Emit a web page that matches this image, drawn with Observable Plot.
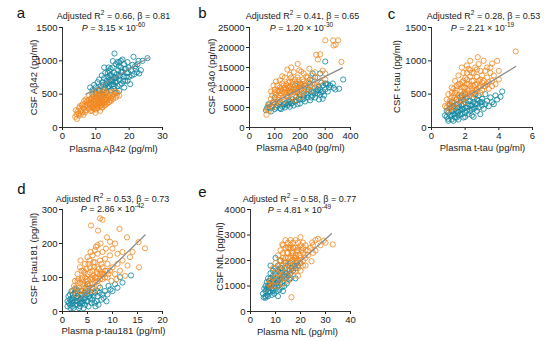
<!DOCTYPE html>
<html><head><meta charset="utf-8">
<script src="https://cdn.jsdelivr.net/npm/d3@7"></script>
<script src="https://cdn.jsdelivr.net/npm/@observablehq/plot@0.6"></script>
<style>
body{margin:0;background:#fff}
#root{position:relative;width:554px;height:341px;overflow:hidden;font-family:"Liberation Sans",Arial,sans-serif}
#root > div{position:absolute}
</style>
</head><body><div id="root"></div>
<script>
// ---------- data ----------
const orangeColor = "#F0871F";
const tealColor = "#1488A1";

// panel a : Plasma Aβ42 vs CSF Aβ42
const aOrange = [[3.8,160],[4.2,200],[4.0,260],[4.5,240],[5.0,290],[4.8,210],[5.5,250],[5.2,320],[6.0,230],[6.2,300],[6.5,280],[6.0,350],[6.8,330],[7.0,260],[7.2,380],[7.5,300],[7.8,350],[8.0,280],[8.0,420],[8.3,330],[8.5,380],[8.7,300],[8.8,450],[9.0,350],[9.0,400],[9.2,320],[9.4,470],[9.5,380],[9.6,280],[9.8,430],[10.0,350],[10.0,500],[10.2,400],[10.3,320],[10.5,450],[10.6,370],[10.8,300],[10.9,420],[11.0,480],[11.0,350],[11.2,400],[11.4,330],[11.5,450],[11.6,520],[11.8,380],[12.0,420],[12.0,300],[12.2,470],[12.4,360],[12.5,400],[12.7,500],[12.8,430],[13.0,380],[13.0,460],[13.3,520],[13.5,410],[13.8,470],[14.0,380],[14.2,500],[14.5,440],[14.8,530],[15.0,470],[15.5,500],[16.0,450],[16.5,520],[17.0,480],[9.5,520],[10.5,550],[8.0,480],[7.0,420],[11.3,250],[12.5,560],[6.5,400],[5.8,330],[10.7,430],[9.8,360],[11.8,460],[12.9,340],[14.3,410],[8.9,250],[10.1,270],[4.3,130],[5.0,180],[7.5,400],[8.2,360],[8.6,430],[9.1,290],[9.3,420],[9.7,330],[10.2,460],[10.4,290],[10.8,510],[11.1,380],[11.3,440],[11.7,300],[12.1,380],[12.3,530],[12.6,330],[13.1,420],[13.4,360],[13.6,480],[14.1,450],[14.6,400],[15.2,430],[15.8,540],[16.3,480],[7.3,330],[6.8,230],[5.5,200],[6.3,190],[8.4,250],[9.9,220],[11.9,340]];
const aTeal = [[8.3,600],[9.0,560],[9.5,640],[10.0,600],[10.5,680],[10.8,560],[11.0,720],[11.5,620],[11.8,780],[12.0,680],[12.3,560],[12.5,740],[12.8,820],[13.0,640],[13.2,700],[13.5,760],[13.7,600],[14.0,850],[14.0,680],[14.3,720],[14.5,790],[14.7,640],[15.0,900],[15.0,700],[15.2,760],[15.4,580],[15.5,820],[15.8,680],[16.0,740],[16.0,950],[16.3,800],[16.5,620],[16.7,860],[17.0,720],[17.0,980],[17.3,780],[17.5,900],[17.8,660],[18.0,840],[18.3,760],[18.5,950],[18.8,700],[19.0,880],[19.3,820],[19.5,980],[19.8,900],[20.0,760],[20.3,650],[20.5,860],[21.0,940],[21.3,1060],[21.5,800],[22.0,880],[22.5,950],[22.8,1000],[23.0,810],[23.5,860],[24.0,1000],[25.5,1040],[15.6,1110],[15.1,995],[16.5,980],[17.5,1000],[14.5,560],[13.0,520],[12.0,500],[16.0,520],[17.0,550],[18.5,600],[19.5,700],[11.0,480],[9.0,500],[13.8,900],[12.5,900],[10.0,520],[12.8,600],[13.3,660],[13.9,620],[14.2,780],[14.8,700],[15.3,650],[15.7,740],[16.2,690],[16.8,770],[17.2,640],[17.6,830],[18.2,700],[18.7,880],[19.2,760],[13.6,820],[14.4,880],[11.3,560],[12.2,640],[16.9,920],[19.7,820],[20.8,780],[21.8,920],[22.3,830],[18.0,1020],[15.5,620]];
const aLine = [[7,500],[25.8,1045]];

// panel b : Plasma Aβ40 vs CSF Aβ40
const bOrange = [[300,21800],[331,21800],[351,21800],[333,20500],[341,20700],[264,18200],[280,18300],[271,17000],[364,16400],[237,14700],[191,15900],[197,14300],[150,14500],[165,15000],[175,13800],[205,14000],[215,13500],[225,12800],[245,13000],[260,13800],[290,14200],[270,12500],[300,13500],[160,13200],[140,12500],[120,11800],[130,11000],[110,10500],[100,9500],[105,8200],[110,7000],[115,9000],[120,10000],[125,8500],[130,7500],[135,9800],[140,8800],[145,10800],[150,9200],[150,7800],[155,11200],[160,8500],[160,10200],[165,9500],[170,11500],[170,7200],[175,10000],[180,8800],[180,12000],[185,9800],[190,10800],[195,8200],[195,11800],[200,9500],[205,10500],[210,12000],[215,9000],[220,11000],[225,10000],[230,12500],[235,11200],[240,10500],[250,11800],[255,10800],[90,8000],[95,6500],[85,7200],[100,6000],[80,6000],[75,5500],[70,4500],[67,3200],[77,4200],[90,5000],[110,6500],[125,6000],[140,6800],[200,7500],[180,6800],[85,9000],[95,10500],[105,11500],[130,12800],[115,7500],[145,8000],[190,9200],[210,8600],[230,9500],[245,9200],[265,10500],[280,11500],[300,12000],[155,9000],[175,9000],[120,8000],[165,12500],[110,9200],[125,9500],[135,10500],[140,9500],[155,10000],[160,11500],[170,10800],[185,11000],[190,12500],[200,10200],[215,11500],[130,9000],[145,9800],[165,8800],[180,9500],[195,10000],[210,10800],[120,9200],[100,8800],[150,10500]];
const bTeal = [[371,12000],[355,9700],[333,9900],[300,16500],[304,10900],[284,8800],[250,13500],[240,11000],[230,9000],[260,10000],[270,8500],[280,9500],[290,10500],[295,8000],[310,9000],[320,10500],[330,11000],[340,9500],[290,7200],[275,7000],[260,7500],[250,8000],[240,6800],[230,7500],[220,6500],[210,7000],[200,6000],[195,7200],[190,5800],[180,6500],[175,5500],[165,6000],[160,5200],[150,5500],[140,5000],[130,5200],[120,4800],[110,5500],[100,4600],[90,5200],[80,4800],[70,5000],[65,4300],[75,5800],[85,4000],[95,6200],[105,5000],[115,6000],[125,4600],[135,5800],[145,6200],[155,6800],[170,7000],[185,7600],[200,8200],[215,8000],[225,8500],[235,9500],[245,9000],[255,8800],[265,9200],[275,10200],[285,11200],[300,11000],[315,10000],[220,10500],[205,9500],[190,8800],[160,9000],[180,10500],[200,11000],[240,12000],[260,12500],[280,13500],[120,6300],[100,7500],[150,7800],[170,6200],[185,6800],[200,7000],[215,7200],[230,8200],[245,7500],[260,8500],[270,9500],[280,8200],[290,9000],[300,9500],[310,10800],[160,6500],[140,5800],[155,6000]];
const bLine = [[65,5300],[368,14900]];

// panel c : Plasma t-tau vs CSF t-tau
const cOrange = [[5.0,1140],[2.75,1055],[2.1,930],[3.9,1000],[3.6,960],[3.3,900],[3.1,1000],[2.9,850],[4.0,850],[3.5,820],[0.8,320],[0.9,420],[1.0,350],[1.0,500],[1.1,280],[1.2,450],[1.2,600],[1.3,380],[1.4,520],[1.4,700],[1.5,420],[1.5,620],[1.6,480],[1.6,780],[1.7,560],[1.8,400],[1.8,680],[1.9,500],[1.9,820],[2.0,600],[2.0,450],[2.1,720],[2.1,530],[2.2,650],[2.2,880],[2.3,480],[2.3,760],[2.4,580],[2.4,700],[2.5,520],[2.5,820],[2.6,640],[2.6,900],[2.7,560],[2.7,760],[2.8,700],[2.8,950],[2.9,620],[3.0,780],[3.0,560],[3.1,700],[3.2,850],[3.2,620],[3.3,750],[3.4,680],[3.5,900],[3.6,700],[3.7,780],[3.8,650],[4.0,720],[1.3,580],[1.7,650],[2.0,740],[2.4,820],[1.1,400],[0.9,300],[1.5,350],[2.2,560],[2.6,480],[3.0,680],[1.8,900],[2.3,1000],[1.2,320],[1.6,400],[2.9,520],[3.4,580],[2.0,380],[1.4,300],[1.0,260],[2.5,620],[1.9,600],[1.3,480],[1.5,560],[1.7,470],[1.8,600],[2.0,520],[2.1,650],[2.2,500],[2.3,620],[2.4,520],[2.5,700],[2.6,560],[2.7,650],[2.8,600],[1.9,700],[1.6,650],[2.1,820],[2.9,720],[3.1,620],[3.3,650],[1.4,450],[1.1,330],[1.2,520],[3.6,620],[2.7,870],[2.3,860]];
const cTeal = [[4.2,540],[3.8,480],[4.1,460],[3.5,450],[3.3,400],[3.0,430],[3.2,350],[2.9,380],[2.8,300],[2.7,420],[2.6,360],[2.5,280],[2.5,450],[2.4,330],[2.3,400],[2.3,250],[2.2,350],[2.1,300],[2.1,450],[2.0,220],[2.0,380],[1.9,280],[1.9,420],[1.8,330],[1.8,200],[1.7,380],[1.7,260],[1.6,300],[1.6,180],[1.5,350],[1.5,240],[1.4,280],[1.4,150],[1.3,320],[1.3,200],[1.2,250],[1.2,120],[1.1,300],[1.1,180],[1.0,220],[1.0,130],[0.9,250],[0.9,160],[1.0,100],[1.3,100],[1.6,120],[2.7,250],[3.1,280],[3.4,320],[3.6,380],[3.9,420],[2.2,200],[1.5,420],[2.8,480],[3.2,500],[1.2,380],[2.4,180],[2.9,200],[3.7,350],[1.9,150],[1.7,450],[2.6,500],[1.1,350],[0.8,180],[2.0,500],[3.0,330],[2.5,160],[1.8,480],[1.3,250],[1.5,300],[1.6,230],[1.8,280],[1.9,350],[2.0,300],[2.1,250],[2.2,400],[2.3,330],[2.4,280],[2.6,300],[2.7,350],[2.8,400],[3.0,380],[1.4,200],[1.7,200],[2.0,160],[1.2,180],[1.5,150],[2.5,380]];
const cLine = [[0.8,265],[5.0,915]];

// panel d : Plasma p-tau181 vs CSF p-tau181
const dOrange = [[7.5,274],[8.0,270],[5.7,253],[7.1,238],[11.4,243],[8.9,218],[12.9,218],[16.5,186],[15.2,204],[15.3,130],[10.5,200],[9.5,205],[11.0,170],[12.0,175],[13.5,160],[14.0,175],[10.0,185],[7.0,195],[6.5,180],[2.0,60],[2.5,90],[3.0,70],[3.0,110],[3.5,85],[3.5,130],[4.0,60],[4.0,100],[4.5,80],[4.5,140],[5.0,70],[5.0,110],[5.0,160],[5.5,95],[5.5,130],[6.0,80],[6.0,120],[6.0,165],[6.5,100],[6.5,145],[7.0,90],[7.0,130],[7.0,170],[7.5,110],[7.5,150],[8.0,95],[8.0,130],[8.0,175],[8.5,120],[8.5,155],[9.0,100],[9.0,140],[9.5,120],[9.5,165],[10.0,130],[10.5,110],[11.0,140],[11.5,120],[12.0,150],[12.5,105],[13.0,135],[3.8,120],[4.2,75],[4.8,95],[5.2,140],[5.8,70],[6.2,105],[6.8,115],[7.2,75],[7.8,140],[8.3,110],[3.2,95],[2.8,50],[4.6,55],[5.6,175],[6.7,190],[7.6,200],[8.7,185],[9.8,90],[10.8,95],[3.6,150],[4.4,115],[5.4,60],[2.3,75],[9.2,110],[6.4,60],[3.0,90],[3.5,60],[4.0,80],[4.2,120],[4.5,100],[5.0,90],[5.2,75],[5.5,115],[5.8,100],[6.0,95],[6.3,130],[6.5,85],[6.8,100],[7.0,110],[7.3,125],[7.5,95],[7.8,115],[8.0,110],[8.5,100],[9.0,120],[4.8,125],[3.8,95],[2.6,70],[5.4,150],[6.2,145]];
const dTeal = [[13.7,106],[11.5,101],[9.2,75],[8.5,60],[8.0,50],[7.5,70],[7.0,45],[6.5,55],[6.0,35],[5.5,50],[5.0,30],[5.0,60],[4.5,40],[4.5,20],[4.0,50],[4.0,25],[3.5,35],[3.5,15],[3.0,45],[3.0,20],[2.5,30],[2.5,55],[2.0,25],[2.0,40],[1.5,20],[1.5,35],[1.0,15],[1.0,30],[1.8,60],[2.2,10],[2.8,65],[3.3,10],[3.8,60],[4.2,10],[4.8,50],[5.2,15],[5.8,25],[6.2,45],[6.8,30],[7.2,20],[7.8,35],[8.2,40],[9.0,50],[10.0,60],[10.5,80],[11.0,70],[12.0,85],[6.0,70],[5.0,80],[3.0,60],[2.0,15],[1.2,45],[3.8,40],[4.6,70],[2.7,40],[3.6,25],[5.6,40],[6.6,15],[1.6,10],[7.4,55],[8.8,30],[9.6,65],[4.3,35],[2.4,65],[1.3,25],[1.8,30],[2.2,35],[2.6,20],[2.9,30],[3.2,40],[3.4,25],[3.9,30],[4.4,55],[4.7,30],[5.3,45],[5.8,55],[2.1,50],[1.5,50],[3.7,50],[6.4,25],[7.0,60]];
const dLine = [[3,30],[16.5,225]];

// panel e : Plasma NfL vs CSF NfL
const eOrange = [[20,2910],[32.9,2630],[29.3,2780],[24.7,2710],[26,2390],[24.4,1970],[12.7,2630],[16.4,560],[28,2600],[27,2850],[30,2700],[22,2600],[23,2400],[10,1500],[11,1800],[11,2200],[12,1600],[12,2000],[13,1800],[13,2300],[13,1400],[14,1700],[14,2100],[14,2500],[15,1600],[15,1900],[15,2300],[15,2700],[16,1800],[16,2100],[16,2500],[17,1700],[17,2000],[17,2300],[17,2700],[18,1900],[18,2200],[18,2500],[19,2000],[19,2400],[19,1700],[20,2200],[20,2600],[20,1900],[21,2300],[21,2000],[21,2700],[22,2100],[22,2400],[23,2200],[24,2500],[25,2300],[25,2600],[26,2800],[9,1300],[9,1700],[8,1200],[10,1900],[12,2400],[13,2600],[14,1300],[16,1500],[18,1600],[19,2700],[20,1600],[17,1400],[11,1500],[8,1000],[7,1100],[9,1000],[10,1200],[12,1300],[15,1200],[13,1100],[11,1000],[19,1400],[21,1800],[16,2800],[14,2800],[18,2800],[22,1800],[15,2100],[17,2500],[14,1900],[14.5,2300],[15.5,2500],[16.5,2000],[16.5,2300],[17.5,2100],[18.5,2000],[18.5,2400],[19.5,2200],[20.5,2400],[13.5,2000],[12.5,1800],[15,2500],[17,2200],[18,2100],[19,2500],[20,2100],[21,2500],[16,2600],[13,2100]];
const eTeal = [[5.3,550],[6,540],[5,700],[6,800],[6.5,650],[7,900],[7,600],[7.5,1000],[8,750],[8,1100],[8.5,900],[9,1200],[9,800],[9.5,1000],[10,1300],[10,900],[10.5,1100],[11,1400],[11,1000],[11.5,1250],[12,1500],[12,1100],[12.5,1300],[13,1600],[13,1200],[13.5,1400],[14,1700],[14,1300],[14.5,1500],[15,1800],[15,1400],[15.5,1600],[16,1900],[16,1500],[16.5,1700],[17,1600],[17.5,1800],[18,1700],[18.5,1900],[19,1800],[20,1900],[7,1300],[8,1500],[9,1600],[10,1700],[11,1800],[12,2000],[6,1000],[5.5,900],[7,750],[8.5,650],[9.5,700],[10.5,800],[11.5,850],[12.5,950],[13.5,1000],[14.5,1100],[15.5,1250],[6.5,1150],[9,1400],[7.5,1200],[10,2100],[8,1800],[12.5,1700],[16,1300],[14,1900],[6,600],[11,600],[13,800],[18,1300],[7,1000],[8,1000],[9,1100],[10,1100],[11,1200],[12,1300],[13,1400],[14,1500],[10,1500],[9,1300],[8,1300],[11,1600],[7.5,800],[6.5,900],[12,1700]];
const eLine = [[6,750],[32.4,3050]];

// text
const panelLetters = ["a","b","c","d","e"];
const statLines = ["Adjusted R{2} = 0.66, β = 0.81","Adjusted R{2} = 0.41, β = 0.65","Adjusted R{2} = 0.28, β = 0.53","Adjusted R{2} = 0.53, β = 0.73","Adjusted R{2} = 0.58, β = 0.77"];
const pLines = ["_P_ = 3.15 × 10{-60}","_P_ = 1.20 × 10{-30}","_P_ = 2.21 × 10{-19}","_P_ = 2.86 × 10{-42}","_P_ = 4.81 × 10{-49}"];
const xLabels = ["Plasma Aβ42 (pg/ml)","Plasma Aβ40 (pg/ml)","Plasma t-tau (pg/ml)","Plasma p-tau181 (pg/ml)","Plasma NfL (pg/ml)"];
const yLabels = ["CSF Aβ42 (pg/ml)","CSF Aβ40 (pg/ml)","CSF t-tau (pg/ml)","CSF p-tau181 (pg/ml)","CSF NfL (pg/ml)"];
const xTicks = [[0,10,20,30],[0,100,200,300,400],[0,2,4,6],[0,5,10,15,20],[0,10,20,30,40]];
const yTicks = [[0,500,1000,1500],[0,5000,10000,15000,20000,25000],[0,500,1000,1500],[0,100,200,300],[0,1000,2000,3000,4000]];

// ---------- layout (page pixel positions) ----------
const ML = 70, MR = 20, MT = 40, MB = 40;
const layout = [
  {fx:62, fy:27, fw:100, fh:100, letter:[20.5,12], t1:[113,15], t2:[113,27], xl:[113,148], yl:[33,77]},
  {fx:249, fy:27, fw:101, fh:100, letter:[202,12], t1:[302,15], t2:[301,27], xl:[300,147], yl:[211,76]},
  {fx:431, fy:27, fw:101, fh:100, letter:[391,13], t1:[483,15], t2:[482,27], xl:[482,147], yl:[396,76]},
  {fx:62, fy:209, fw:100, fh:102, letter:[21,188], t1:[112,198], t2:[112,208], xl:[113,330], yl:[33,258]},
  {fx:250, fy:209, fw:100, fh:102, letter:[202,191], t1:[299,198], t2:[299,209], xl:[297,331], yl:[219,256]}
];
const series = [[aOrange,aTeal,aLine],[bOrange,bTeal,bLine],[cOrange,cTeal,cLine],[dOrange,dTeal,dLine],[eOrange,eTeal,eLine]];

function place(svg, L, str, pos, rotate) {
  const ox = L.fx - ML, oy = L.fy - MT;
  d3.select(svg).selectAll("text").filter(function(){ return this.textContent === str; })
    .attr("x", null).attr("y", null).attr("dx", null)
    .attr("dy", "0.35em")
    .attr("text-anchor", "middle")
    .attr("transform", `translate(${pos[0]-ox},${pos[1]-oy})${rotate ? " rotate(-90)" : ""}`);
}

function richify(svg){
  d3.select(svg).selectAll("text").each(function(){
    const s = this.textContent;
    if (!/[{_]/.test(s)) return;
    const el = d3.select(this);
    el.text(null);
    const parts = s.split(/(\{[^}]*\}|_[^_]*_)/).filter(p => p);
    let raised = false;
    for (const p of parts) {
      let t;
      if (p[0] === "{") {
        el.append("tspan").attr("dy", -3.5).attr("font-size", "6.5px").text(p.slice(1,-1));
        raised = true;
        continue;
      } else if (p[0] === "_") {
        t = el.append("tspan").attr("font-style","italic").text(p.slice(1,-1));
      } else {
        t = el.append("tspan").text(p);
      }
      if (raised) { t.attr("dy", 3.5); raised = false; }
    }
  });
}

const root = document.getElementById("root");
layout.forEach((L, i) => {
  const [orange, teal, line] = series[i];
  const xt = xTicks[i], yt = yTicks[i];
  const chart = Plot.plot({
    width: ML + L.fw + MR,
    height: MT + L.fh + MB,
    marginLeft: ML, marginRight: MR, marginTop: MT, marginBottom: MB,
    style: {fontFamily: "'Liberation Sans', Arial, sans-serif", fontSize: "9.5px", color: "#222", background: "none", overflow: "visible"},
    x: {domain: [xt[0], xt[xt.length-1]], ticks: xt, tickFormat: "d", tickSize: 3, tickPadding: 2, label: null},
    y: {domain: [yt[0], yt[yt.length-1]], ticks: yt, tickFormat: "d", tickSize: 3, tickPadding: 2, label: null},
    marks: [
      Plot.dot(teal, {x: d => d[0], y: d => d[1], r: 2.6, stroke: tealColor, strokeWidth: 1, strokeOpacity: 0.85, fill: "none"}),
      Plot.dot(orange, {x: d => d[0], y: d => d[1], r: 2.6, stroke: orangeColor, strokeWidth: 1, strokeOpacity: 0.8, fill: "none"}),
      Plot.line(line, {x: d => d[0], y: d => d[1], stroke: "#8a8a8a", strokeWidth: 1.2}),
      Plot.ruleX([xt[0]], {stroke: "#333", strokeWidth: 1}),
      Plot.ruleY([yt[0]], {stroke: "#333", strokeWidth: 1}),
      Plot.text([statLines[i]], {frameAnchor: "top-left", fontSize: 9, fill: "#222"}),
      Plot.text([pLines[i]], {frameAnchor: "top-left", fontSize: 9, fill: "#222"}),
      Plot.text([xLabels[i]], {frameAnchor: "top-left", fontSize: 9.5, fill: "#222"}),
      Plot.text([yLabels[i]], {frameAnchor: "top-left", rotate: -90, fontSize: 9.5, fill: "#222"}),
      Plot.text([panelLetters[i]], {frameAnchor: "top-left", fontSize: 15, fill: "#111"})
    ]
  });
  place(chart, L, statLines[i], L.t1, false);
  place(chart, L, pLines[i], L.t2, false);
  place(chart, L, xLabels[i], L.xl, false);
  place(chart, L, yLabels[i], L.yl, true);
  place(chart, L, panelLetters[i], L.letter, false);
  richify(chart);
  const wrap = document.createElement("div");
  wrap.style.left = (L.fx - ML) + "px";
  wrap.style.top = (L.fy - MT) + "px";
  wrap.appendChild(chart);
  root.appendChild(wrap);
});
</script>
</body></html>
